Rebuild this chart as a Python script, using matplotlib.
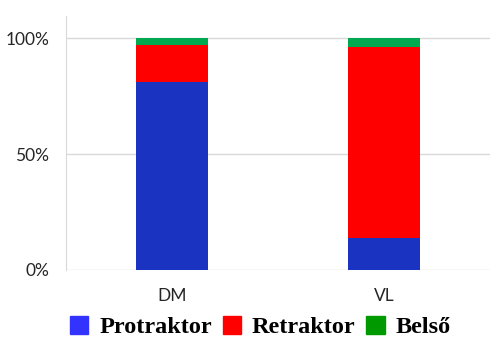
import numpy as np
import matplotlib
matplotlib.use("Agg")
import matplotlib.pyplot as plt
from matplotlib.patches import Patch

categories = ["DM", "VL"]
series = ["Protraktor", "Retraktor", "Belső"]
protraktor = [0.81, 0.14]
retraktor = [0.16, 0.82]
belso = [0.03, 0.04]
yticks = [0.0, 0.5, 1.0]
ytick_labels = ["0%", "50%", "100%"]

bar_colors = ["#1a33c0", "#ff0000", "#00a84f"]
legend_colors = ["#3333ff", "#ff0000", "#009900"]

fig = plt.figure(figsize=(4.98, 3.53), dpi=100)
ax = fig.add_axes([66 / 498, 1 - 270 / 353, 424 / 498, 254 / 353])

x = np.arange(len(categories))
bottom = np.zeros(len(categories))
for vals, col in zip([protraktor, retraktor, belso], bar_colors):
    ax.bar(x, vals, 0.335, bottom=bottom, color=col, zorder=3)
    bottom += np.array(vals)

ax.set_xlim(-0.5, 1.5)
ax.set_ylim(0, 1.095)
ax.set_yticks(yticks)
ax.set_yticklabels(ytick_labels, fontsize=12.5, family="Lato", color="#262626")
ax.set_xticks(x)
ax.set_xticklabels(categories, fontsize=12.5, family="Lato", color="#262626")
ax.tick_params(axis="y", length=0, pad=12)
ax.tick_params(axis="x", length=0, pad=13)
ax.grid(axis="y", color="#d9d9d9", lw=1, zorder=0)
for s in ["top", "right", "bottom"]:
    ax.spines[s].set_visible(False)
ax.spines["left"].set_color("#d9d9d9")

handles = [Patch(color=c) for c in legend_colors]
fig.legend(handles, series, loc="center", bbox_to_anchor=(0.523, 1 - 327 / 353), ncol=3,
           frameon=False, prop={"family": "Liberation Serif", "weight": "bold", "size": 17.5},
           handlelength=0.75, handleheight=0.75, handletextpad=0.45, columnspacing=0.45)

fig.savefig("out.png", dpi=100)
